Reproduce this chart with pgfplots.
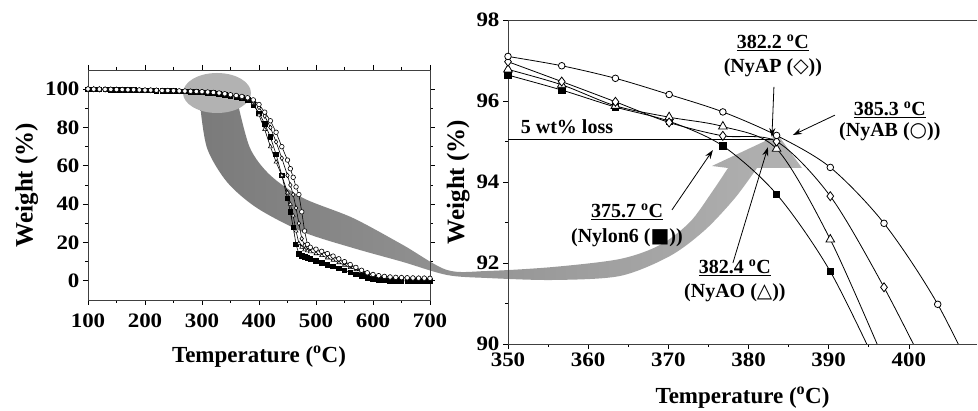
\documentclass[border=0pt]{standalone}
\usepackage{pgfplots}
\pgfplotsset{compat=1.18}
\usepackage{pgfplotstable}
\usepackage{fontspec}
\setmainfont{Liberation Serif}
\newfontfamily\tickfont[FakeStretch=1.12]{Liberation Serif}
\newfontfamily\sym{DejaVu Sans}
\usetikzlibrary{arrows.meta}

\pgfplotstableread{
T N6 AO AP AB
100 100.0 100.3 99.8 100.1
110 100.0 100.2 99.8 100.0
120 99.9 100.2 99.7 100.0
130 99.9 100.1 99.7 99.9
140 99.8 100.0 99.6 99.9
150 99.8 99.9 99.6 99.8
160 99.7 99.8 99.5 99.8
170 99.6 99.8 99.5 99.7
180 99.6 99.7 99.4 99.7
190 99.5 99.6 99.4 99.6
200 99.4 99.5 99.3 99.5
210 99.4 99.5 99.3 99.5
220 99.3 99.4 99.2 99.4
230 99.2 99.3 99.1 99.3
240 99.1 99.2 99.1 99.3
250 99.0 99.1 99.0 99.2
260 98.9 99.0 98.9 99.1
270 98.8 98.9 98.8 99.0
280 98.7 98.8 98.7 98.9
290 98.5 98.7 98.6 98.8
300 98.4 98.5 98.4 98.7
310 98.2 98.3 98.2 98.5
320 98.0 98.1 98.0 98.3
330 97.6 97.7 97.8 98.0
340 97.2 97.3 97.4 97.6
350 96.6 96.8 97.0 97.1
360 96.1 96.3 96.5 96.7
370 95.5 95.6 95.5 96.2
380 94.5 95.1 95.0 95.5
390 91.9 92.7 93.7 94.4
400 87.5 86.5 90.5 92.0
410 82.0 79.0 86.0 88.0
420 75.0 70.0 80.0 83.5
430 66.0 62.0 72.5 77.5
440 55.0 55.0 64.0 70.0
450 43.0 46.0 55.0 63.0
455 36.0 40.0 50.0 58.5
460 28.0 34.0 45.0 54.0
465 19.0 26.0 38.0 49.0
470 14.0 19.5 30.0 45.0
475 13.0 17.5 22.0 36.0
480 12.5 16.2 18.5 26.0
485 12.0 15.7 17.8 19.0
490 11.5 15.2 17.0 17.5
500 10.5 14.2 16.0 16.5
510 9.5 13.2 15.0 15.4
520 8.5 12.0 13.8 14.2
530 7.5 10.8 12.5 12.9
540 6.5 9.5 11.0 11.5
550 5.5 8.2 9.5 10.0
560 4.5 7.0 8.0 8.5
570 3.5 5.8 6.5 7.0
580 2.5 4.8 5.2 5.5
590 1.6 3.8 4.0 4.2
600 1.0 3.0 3.2 3.3
610 0.5 2.5 2.6 2.7
620 0.2 2.1 2.2 2.3
630 0.0 1.9 1.9 2.0
640 0.0 1.7 1.7 1.8
650 0.0 1.6 1.6 1.7
660 0.0 1.5 1.5 1.6
670 0.0 1.4 1.4 1.5
680 0.0 1.3 1.3 1.4
690 0.0 1.3 1.3 1.4
700 0.0 1.2 1.2 1.3
}\leftdata

\pgfplotstableread{
T W
350.0 96.64
356.7 96.27
363.4 95.85
370.1 95.50
376.8 94.89
383.5 93.70
390.2 91.79
396.9 89.10
}\rNsix
\pgfplotstableread{
T W
350.0 96.78
356.7 96.40
363.4 95.88
370.1 95.60
376.8 95.37
383.5 94.82
390.2 92.58
396.9 89.60
}\rAO
\pgfplotstableread{
T W
350.0 96.97
356.7 96.48
363.4 95.98
370.1 95.47
376.8 95.14
383.5 95.00
390.2 93.65
396.9 91.40
403.6 88.80
}\rAP
\pgfplotstableread{
T W
350.0 97.10
356.7 96.87
363.4 96.56
370.1 96.16
376.8 95.73
383.5 95.15
390.2 94.36
396.9 92.98
403.6 90.98
410.3 88.30
}\rAB

\pgfplotsset{
  common/.style={
    scale only axis,
    tick align=outside,
    major tick length=5pt,
    minor tick length=3pt,
    tick style={black, line width=0.7pt},
    axis line style={black!75, line width=0.8pt},
    /pgf/number format/assume math mode=true,
    ticklabel style={font=\tickfont\bfseries\fontsize{20.5}{20.5}\selectfont},
    xlabel style={font=\bfseries\fontsize{23}{23}\selectfont},
    ylabel style={font=\bfseries\fontsize{25}{25}\selectfont},
    xlabel={Temperature (\textsuperscript{o}C)},
    ylabel={Weight (\%)},
  },
  lser/.style={black, line width=0.6pt, mark size=2.3pt},
}

\begin{document}
\begin{tikzpicture}
\useasboundingbox (0,0) rectangle (978pt,411pt);

% decorative grey arrow
\begin{scope}[x=1pt,y=-1pt,yshift=411pt]
\shade[left color=black!52, right color=black!30]
  plot[smooth] coordinates {(200,104) (207,148) (227,182) (257,208) (303,232) (353,248) (403,262) (447,275) (487,278) (553,280) (620,276) (670,256) (705,230) (735,198) (757,168)}
  -- (802,168) -- (778,135) -- (712,166)
  -- plot[smooth] coordinates {(728,168) (712,192) (690,222) (660,245) (620,259) (553,267) (487,271) (447,270) (403,245) (353,218) (303,198) (270,175) (250,148) (238,104)}
  -- cycle;
\fill[black!30] (217,93) ellipse [x radius=34pt, y radius=20pt];
\end{scope}

% left panel
\begin{axis}[common,
  at={(88pt,111pt)}, anchor=south west,
  width=342pt, height=230pt,
  xmin=100, xmax=700, ymin=-10, ymax=110,
  xtick={100,200,...,700}, ytick={0,20,...,100},
  minor x tick num=1, minor y tick num=1,
  xticklabel style={yshift=-5pt},
  xlabel style={yshift=-12pt},
]
\addplot[lser, mark=square*] table[x=T,y=N6] {\leftdata};
\addplot[lser, mark=triangle*, mark options={fill=white}] table[x=T,y=AO] {\leftdata};
\addplot[lser, mark=diamond*, mark options={fill=white}] table[x=T,y=AP] {\leftdata};
\addplot[lser, mark=*, mark options={fill=white}] table[x=T,y=AB] {\leftdata};
\end{axis}

% right panel
\begin{axis}[common,
  at={(508pt,67pt)}, anchor=south west,
  width=469pt, height=324pt,
  xmin=350, xmax=408.5, ymin=90, ymax=98,
  axis x line*=bottom, axis y line*=left,
  xtick={350,360,...,400}, ytick={90,92,...,98},
  minor x tick num=1, minor y tick num=1,
  xlabel style={yshift=-14pt},
  clip mode=individual,
]
\draw[black!75, line width=0.8pt] (rel axis cs:0,1) -- (rel axis cs:1,1);
\draw[black, line width=0.8pt] (axis cs:350,95.05) -- (axis cs:383,95.05);
\addplot[black, line width=0.8pt, smooth, mark=square*, mark size=3.2pt] table[x=T,y=W] {\rNsix};
\addplot[black, line width=0.8pt, smooth, mark=triangle*, mark size=5pt, mark options={fill=white}] table[x=T,y=W] {\rAO};
\addplot[black, line width=0.8pt, smooth, mark=diamond*, mark size=4.5pt, mark options={fill=white}] table[x=T,y=W] {\rAP};
\addplot[black, line width=0.8pt, smooth, mark=*, mark size=3.3pt, mark options={fill=white}] table[x=T,y=W] {\rAB};

\begin{scope}[font=\bfseries\fontsize{20}{20}\selectfont]
\node at (axis cs:357.36,95.36) {5 wt\% loss};
\node at (axis cs:383.04,97.43) {\underline{382.2 \textsuperscript{o}C}};
\node at (axis cs:383.04,96.81) {(NyAP ({\sym\mdseries ◇}))};
\node at (axis cs:397.63,95.78) {\underline{385.3 \textsuperscript{o}C}};
\node at (axis cs:397.63,95.23) {(NyAB ({\sym\mdseries ○}))};
\node at (axis cs:364.84,93.26) {\underline{375.7 \textsuperscript{o}C}};
\node at (axis cs:364.84,92.62) {(Nylon6 ({\sym ■}))};
\node at (axis cs:378.3,91.88) {\underline{382.4 \textsuperscript{o}C}};
\node at (axis cs:378.3,91.26) {(NyAO ({\sym\mdseries △}))};
\end{scope}
\begin{scope}[black, line width=0.8pt, -{Stealth[length=9pt,width=6pt]}]
\draw (axis cs:383.17,96.35) -- (axis cs:382.92,95.11);
\draw (axis cs:390.77,95.65) -- (axis cs:385.54,95.16);
\draw (axis cs:370.45,93.31) -- (axis cs:375.56,94.79);
\draw (axis cs:378.05,92.00) -- (axis cs:382.42,94.86);
\end{scope}
\end{axis}
\end{tikzpicture}
\end{document}
